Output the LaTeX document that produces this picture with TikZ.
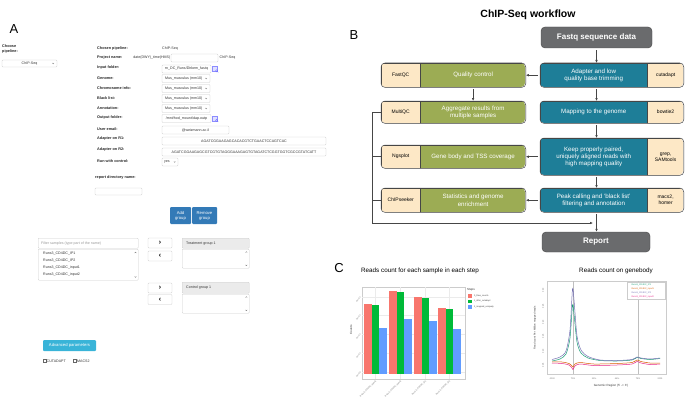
\documentclass[tikz,border=0pt]{standalone}
\usepackage{fontspec}
\setmainfont{Liberation Sans}
\usetikzlibrary{positioning,arrows.meta}
\definecolor{wfteal}{RGB}{30,126,152}
\definecolor{wfgreen}{RGB}{156,172,84}
\definecolor{wfpeach}{RGB}{253,232,198}
\definecolor{wfgrey}{RGB}{106,107,109}
\definecolor{wfline}{RGB}{70,70,70}
\definecolor{btnblue}{RGB}{51,122,183}
\definecolor{btncyan}{RGB}{57,180,216}
\definecolor{barred}{HTML}{F8766D}
\definecolor{bargreen}{HTML}{00BA38}
\definecolor{barblue}{HTML}{619CFF}
\definecolor{ipone}{HTML}{1B9E77}
\definecolor{inone}{HTML}{D95F02}
\definecolor{iptwo}{HTML}{7570B3}
\definecolor{intwo}{HTML}{E7298A}
\tikzset{panellabel/.style = {font=\fontsize{13}{15}\selectfont, inner sep=0pt}}
\tikzset{uilabel/.style = {anchor=west, inner sep=0pt, font=\fontsize{3.8}{5.5}\selectfont\bfseries, text=black!85}}
\tikzset{uitext/.style = {inner sep=0pt, font=\fontsize{3.6}{4.5}\selectfont, text=black!80}}
\tikzset{field/.style = {draw=black!20, fill=white, rounded corners=0.8pt, line width=0.35pt, inner sep=0pt, font=\fontsize{3.6}{4.5}\selectfont, text=black!80}}
\tikzset{header/.style = {field, fill=black!8}}
\tikzset{movebutton/.style = {field, font=\fontsize{7}{7}\selectfont\bfseries, text=black}}
\tikzset{uibutton/.style = {rounded corners=1pt, inner sep=0pt, text=white, align=center, font=\fontsize{4.2}{5}\selectfont}}
\tikzset{caret/.pic = {\draw[black!55, line width=0.3pt] (-0.8,-0.5) -- (0,0.4) -- (0.8,-0.5);}}
\tikzset{foldericon/.pic = {\draw[draw=blue!45, fill=blue!12, line width=0.3pt] (-2.8,-2.4) rectangle (2.2,2.4);
  \draw[blue!55, line width=0.4pt] (1.6,1.8) circle (1.1) (2.4,2.6) -- (3.2,3.4);}}
\tikzset{tealbox/.style = {draw=wfline, fill=wfteal, text=white, align=center, inner sep=0pt, minimum width=107, font=\fontsize{6.2}{7.3}\selectfont}}
\tikzset{greenbox/.style = {draw=wfline, fill=wfgreen, text=white, align=center, inner sep=0pt, minimum width=105, font=\fontsize{6.2}{7.3}\selectfont}}
\tikzset{toolbox/.style = {draw=wfline, fill=wfpeach, text=black, align=center, inner sep=0pt, minimum width=36, font=\fontsize{5}{6}\selectfont}}
\tikzset{endbox/.style = {draw=wfline, fill=wfgrey, text=white, rounded corners=4pt, inner sep=0pt, font=\fontsize{8}{9}\selectfont\bfseries}}
\tikzset{frame/.style = {draw=wfline, line width=0.5pt, rounded corners=4pt}}
\tikzset{flow/.style = {->, wfline, line width=0.6pt, shorten <=2pt}}
\tikzset{charttitle/.style = {font=\fontsize{6.3}{7.5}\selectfont, inner sep=0pt}}
\tikzset{ticklabel/.style = {font=\fontsize{2.2}{2.6}\selectfont, text=black!55, inner sep=0.3pt}}
\tikzset{axislabel/.style = {font=\fontsize{3}{3.5}\selectfont, text=black!80, inner sep=0pt}}
% right column step: name, top, height, text, tool name, tool text
\newcommand{\runstep}[6]{%
  \begin{scope}
    \clip[rounded corners=4pt] (540,#2) rectangle (683,#2+#3);
    \node[tealbox, minimum height=#3, anchor=north west] (#1) at (540,#2) {#4};
    \node[toolbox, minimum height=#3, anchor=north west] (#5) at (#1.north east) {#6};
  \end{scope}
  \draw[frame] (#1.north west) rectangle (#5.south east)}
% left column step: tool name, top, height, tool text, name, text
\newcommand{\qcstep}[6]{%
  \begin{scope}
    \clip[rounded corners=4pt] (381,#2) rectangle (525,#2+#3);
    \node[toolbox, minimum width=39, minimum height=#3, anchor=north west] (#1) at (381,#2) {#4};
    \node[greenbox, minimum height=#3, anchor=north west] (#5) at (#1.north east) {#6};
  \end{scope}
  \draw[frame] (#1.north west) rectangle (#5.south east)}

\begin{document}
\begin{tikzpicture}[x=1pt, y=-1pt, >={Latex[length=3pt,width=2.6pt]}]
  \useasboundingbox (0,0) rectangle (685,404);

  % A: the pipeline form
  \node[panellabel] (labA) at (14,29) {A};
  \node[uilabel, anchor=north west, align=left] (choose) at (2,44.5) {Choose\\pipeline:};
  \node[field, minimum width=55, minimum height=7] (pipesel) at (29.5,63.5) {ChIP-Seq};
  \pic at ([xshift=-4]pipesel.east) {caret};

  \node[uilabel] (l1) at (97,48.5) {Chosen pipeline:};
  \node[uilabel] (l2) at (97,58) {Project name:};
  \node[uilabel] (l3) at (97,68) {Input folder:};
  \node[uilabel] (l4) at (97,78) {Genome:};
  \node[uilabel] (l5) at (97,88) {Chromosome info:};
  \node[uilabel] (l6) at (97,98) {Black list:};
  \node[uilabel] (l7) at (97,108) {Annotation:};
  \node[uilabel] (l8) at (97,118) {Output folder:};
  \node[uilabel] (l9) at (97,129) {User email:};
  \node[uilabel] (l10) at (97,139) {Adapter on R1:};
  \node[uilabel] (l11) at (97,150) {Adapter on R2:};
  \node[uilabel] (l12) at (97,161) {Run with control:};
  \node[uilabel] (l13) at (95,178) {report directory name:};

  \node[uitext, anchor=west] (chosen) at (162,48.5) {ChIP-Seq};
  \node[uitext, anchor=east] (projdate) at (170.5,58) {date(DWY)\_time(HMS)};
  \node[field, minimum width=47, minimum height=8] (projname) at (194.5,58) {};
  \node[uitext, anchor=west] (projtail) at (219.5,58) {ChIP-Seq};
  \node[field, minimum width=49, minimum height=8] (indir) at (186.5,69) {rn\_DC\_Runs/Dirkem\_fastq};
  \pic at (215,69) {foldericon};
  \foreach \y/\n in {78.5/genome, 88.5/chrom, 98.5/black, 108.5/annot} {
    \node[field, minimum width=48, minimum height=8] (\n) at (186,\y) {};
    \node[uitext, right=3pt of \n.west] {Mus\_musculus (mm10)};
    \pic at ([xshift=-4]\n.east) {caret};
  }
  \node[field, minimum width=49, minimum height=8] (outdir) at (186.5,118.5) {/mnt/hod\_mount/dap.outp};
  \pic at (215,118.5) {foldericon};
  \node[field, minimum width=67, minimum height=8] (email) at (195.5,130) {@weizmann.ac.il};
  \node[field, minimum width=164, minimum height=8] (adapt1) at (244,141) {AGATCGGAAGAGCACACGTCTGAACTCCAGTCAC};
  \node[field, minimum width=164, minimum height=8] (adapt2) at (244,152) {AGATCGGAAGAGCGTCGTGTAGGGAAAGAGTGTAGATCTCGGTGGTCGCCGTATCATT};
  \node[field, minimum width=16, minimum height=8] (runctrl) at (170,162) {};
  \node[uitext, right=2pt of runctrl.west] {yes};
  \pic at ([xshift=-3.5]runctrl.east) {caret};
  \node[field, minimum width=47, minimum height=7] (reportdir) at (118.5,191.5) {};

  \node[uibutton, fill=btnblue, minimum width=21, minimum height=17] (addgrp) at (180.5,215.5) {Add\\group};
  \node[uibutton, fill=btnblue, minimum width=25, minimum height=17] (remgrp) at (204.5,215.5) {Remove\\group};

  % A: sample lists
  \node[field, minimum width=100, minimum height=10, anchor=north west] (filter) at (38,238) {};
  \node[uitext, text=black!40, right=3pt of filter.west] {Filter samples (type part of the name)};
  \node[field, minimum width=100, minimum height=31, anchor=north west] (samples) at (38,249) {};
  \foreach \s [count=\i] in {IP1, IP2, input1, input2}
    \node[uitext, anchor=west] (sample\i) at (43,247+7*\i) {Runs3\_CD4DC\_\s};
  \pic[rotate=180] at (135.5,252.5) {caret};
  \pic at (135.5,277) {caret};

  \node[movebutton, minimum width=24, minimum height=10] (totreat) at (160,243) {\char"203A};
  \node[movebutton, minimum width=24, minimum height=10] (fromtreat) at (160,256) {\char"2039};
  \node[movebutton, minimum width=24, minimum height=10] (toctrl) at (160,288) {\char"203A};
  \node[movebutton, minimum width=24, minimum height=10] (fromctrl) at (160,299.5) {\char"2039};
  \node[header, minimum width=67, minimum height=10, anchor=north west] (treathead) at (182,238) {};
  \node[uitext, right=4pt of treathead.west] {Treatment group 1};
  \node[field, minimum width=67, minimum height=19, anchor=north west] (treatbox) at (182,249) {};
  \node[header, minimum width=67, minimum height=11, anchor=north west] (ctrlhead) at (182,282) {};
  \node[uitext, right=4pt of ctrlhead.west] {Control group 1};
  \node[field, minimum width=67, minimum height=19, anchor=north west] (ctrlbox) at (182,294) {};
  \foreach \b in {treatbox, ctrlbox} {
    \pic[rotate=180] at ([xshift=-3,yshift=-3]\b.north east) {caret};
    \pic at ([xshift=-3,yshift=3]\b.south east) {caret};
  }

  \node[uibutton, fill=btncyan, minimum width=53, minimum height=11] (advpar) at (69.5,345.5) {Advanced parameters};
  \draw[black!60, line width=0.3pt] (43,359.5) rectangle ++(3,3);
  \node[uitext, anchor=west] (cutchk) at (46.5,361) {CUTADAPT};
  \draw[black!60, line width=0.3pt] (73.5,359.5) rectangle ++(3,3);
  \node[uitext, anchor=west] (macschk) at (77,361) {MACS2};

  % B: workflow
  \node[font=\fontsize{10.5}{12}\selectfont\bfseries] (wftitle) at (528,15) {ChIP-Seq workflow};
  \node[panellabel] (labB) at (354,35) {B};
  \node[endbox, minimum width=111, minimum height=21] (fastq) at (596.5,37.5) {Fastq sequence data};
  \runstep{trim}{63}{24}{Adapter and low\\quality base trimming}{cutadapt}{cutadapt};
  \runstep{map}{101}{22}{Mapping to the genome}{bowtie}{bowtie2};
  \runstep{keep}{138}{37}{Keep properly paired,\\uniquely aligned reads with\\high mapping quality}{samtools}{grep,\\SAMtools};
  \runstep{peak}{188}{24}{Peak calling and `black list'\\filtering and annotation}{macs}{macs2,\\homer};
  \qcstep{fastqc}{63}{24}{FastQC}{qc}{Quality control};
  \qcstep{multiqc}{101}{22}{MultiQC}{aggr}{Aggregate results from\\multiple samples};
  \qcstep{ngsplot}{145}{23}{Ngsplot}{cover}{Gene body and TSS coverage};
  \qcstep{chipseeker}{188}{24}{ChIPseeker}{enrich}{Statistics and genome\\enrichment};
  \node[endbox, minimum width=108, minimum height=20] (report) at (596,242) {Report};
  \coordinate (merge) at (593,223);

  \draw[flow] (fastq.south) -- (fastq.south |- trim.north);
  \draw[flow] (fastq.south |- trim.south) -- (fastq.south |- map.north);
  \draw[flow] (fastq.south |- map.south) -- (fastq.south |- keep.north);
  \draw[flow] (fastq.south |- keep.south) -- (fastq.south |- peak.north);
  \draw[flow] (fastq.south |- peak.south) -- (fastq.south |- report.north);
  \draw[flow] (trim.west) -- (qc.east);
  \draw[flow] (qc.south) -- (aggr.north);
  \draw[flow] (keep.west) -- (keep.west -| cover.east);
  \draw[flow] (peak.west) -- (peak.west -| enrich.east);
  \draw[wfline, line width=0.6pt] (multiqc.west) -- (multiqc.west -| 372,0) coordinate (fbtop);
  \draw[wfline, line width=0.6pt] (ngsplot.west) -- (ngsplot.west -| fbtop);
  \draw[wfline, line width=0.6pt] (chipseeker.west) -- (chipseeker.west -| fbtop);
  \draw[flow, shorten <=0pt] (fbtop) |- (merge);

  % C: bar chart
  \node[panellabel] (labC) at (339,268) {C};
  \node[charttitle] (bartitle) at (420,271) {Reads count for each sample in each step};
  \node[charttitle] (linetitle) at (616,271) {Reads count on genebody};
  \draw[black!20, fill=white, line width=0.4pt] (362,287) rectangle (465,379);
  \foreach \y/\v in {372/0e+00, 353/1e+07, 334/2e+07, 315/3e+07, 297/4e+07} {
    \draw[black!8, line width=0.3pt] (362,\y) -- (465,\y);
    \node[ticklabel, anchor=east, rotate=45] at (361,\y) {\v};
  }
  \foreach \x/\r/\g/\b/\s in {364/304/305/328/input1, 389/291/292/319/input2, 414/297/298/321/IP1, 438/308/309/329/IP2} {
    \draw[black!8, line width=0.3pt] (\x+11.5,287) -- (\x+11.5,379);
    \fill[barred] (\x,\r) rectangle (\x+7.6,374);
    \fill[bargreen] (\x+7.6,\g) rectangle (\x+15.2,374);
    \fill[barblue] (\x+15.2,\b) rectangle (\x+22.8,374);
    \node[ticklabel, anchor=east, rotate=45] at (\x+12.5,380.5) {Runs3\_CD4DC\_\s};
  }
  \node[axislabel, rotate=90] (countlab) at (351,330) {Counts};
  \node[axislabel, anchor=west] (stepslab) at (467,290) {Steps};
  \foreach \c/\t [count=\i] in {barred/0\_Raw\_counts, bargreen/1\_after\_cutadapt, barblue/2\_mapped\_uniquely} {
    \fill[\c] (468,292+5.5*\i) rectangle ++(3.5,-3.5);
    \node[ticklabel, text=black!75, anchor=west] (key\i) at (473.5,290.2+5.5*\i) {\t};
  }

  % C: coverage profile
  \draw[black!20, fill=white, line width=0.4pt] (547,281) rectangle (666,374);
  \draw[black!25, line width=0.4pt] (573,281) -- (573,374) (638,281) -- (638,374);
  \foreach \x/\v in {552/-2000, 573/TSS, 594/33\%, 617/66\%, 638/TES, 660/2000}
    \node[ticklabel] at (\x,379) {\v};
  \foreach \y/\v in {290/0.30, 306/0.25, 322/0.20, 336/0.15, 351/0.10, 365/0.05}
    \node[ticklabel, rotate=90] at (543,\y) {\v};
  \node[axislabel] (regionlab) at (611,386) {Genomic Region (5' -> 3')};
  \node[axislabel, rotate=90, font=\fontsize{2.6}{3}\selectfont] (rpmlab) at (535,328) {Read count Per Million mapped reads};
  \draw[intwo, line width=0.5pt] plot[smooth, tension=0.5] coordinates {(552,363) (562,363.5) (569,365) (572,368) (573,369.5) (575,366) (580,364) (594,365.5) (617,365) (632,364) (637,361.5) (641,363) (650,364.5) (660,364)};
  \draw[inone, line width=0.5pt] plot[smooth, tension=0.5] coordinates {(552,362) (562,362) (569,363.5) (572,366) (573,367) (575,364) (580,362.5) (594,364) (617,363.5) (632,362.5) (637,360) (641,361.5) (650,363) (660,363)};
  \draw[ipone, line width=0.5pt] plot[smooth, tension=0.45] coordinates {(552,361) (560,359) (566,354) (570,338) (572.5,305) (574,314) (577,342) (581,353) (588,358) (600,360.5) (617,361) (632,360) (637,357.5) (641,358.5) (650,359.5) (660,358.5)};
  \draw[iptwo, line width=0.5pt] plot[smooth, tension=0.45] coordinates {(552,359.5) (560,357) (566,351) (570,330) (572.5,289) (574,300) (577,336) (581,350) (588,356.5) (600,360) (617,360.5) (632,359.5) (637,357) (641,358) (650,359) (660,358)};
  \draw[black!20, fill=white, line width=0.3pt] (627,282) rectangle (665,299);
  \foreach \c/\s [count=\i] in {ipone/IP1, inone/input1, iptwo/IP2, intwo/input2}
    \node[ticklabel, text=\c, anchor=west] (curve\i) at (631,281.5+3.9*\i) {Runs3\_CD4DC\_\s};
\end{tikzpicture}
\end{document}
